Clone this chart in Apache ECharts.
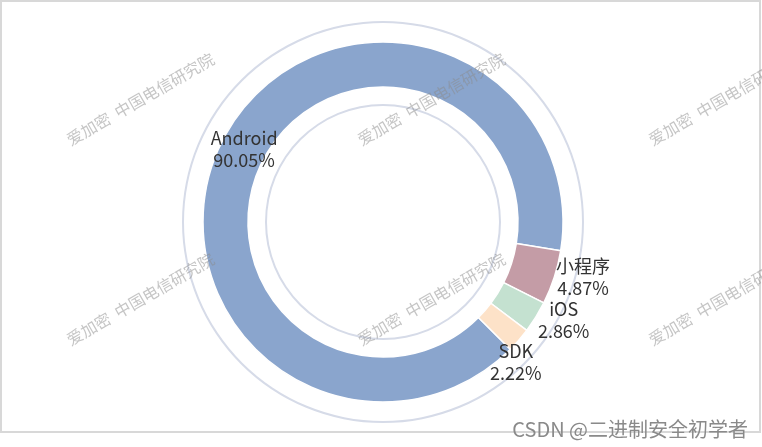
<!DOCTYPE html>
<html>
<head>
<meta charset="utf-8">
<script src="https://cdn.jsdelivr.net/npm/echarts@6/dist/echarts.min.js"></script>
<style>
html,body{margin:0;padding:0;background:#fff;}
#main{width:762px;height:447px;}
</style>
</head>
<body>
<div id="main"></div>
<script>
var categories = ['Android', '小程序', 'iOS', 'SDK'];
var values = [90.05, 4.87, 2.86, 2.22];
var colors = ['#8aa5cd', '#c49ca6', '#c4e1d0', '#fde2c8'];
var watermarkText = '爱加密  中国电信研究院';
var creditText = 'CSDN @二进制安全初学者';

var chart = echarts.init(document.getElementById('main'));

var pieData = categories.map(function (c, i) {
  var item = { name: c, value: values[i], itemStyle: { color: colors[i] } };
  if (i === 0) {
    item.label = { position: 'inside', offset: [4, 0] };
  }
  if (i === 2) {
    item.label = { offset: [-5, 3] };
  }
  if (i === 3) {
    item.label = { offset: [-30, 8] };
  }
  return item;
});

var wmCols = [72, 363, 654];
var wmRows = [148, 348];
var graphics = [{
  type: 'rect', z: 1, silent: true,
  shape: { x: 1, y: 1, width: 759, height: 431 },
  style: { fill: 'none', stroke: '#d8d8d8', lineWidth: 2 }
}];
wmRows.forEach(function (y) {
  wmCols.forEach(function (x) {
    graphics.push({
      type: 'text', z: 100, silent: true,
      x: x, y: y, rotation: Math.PI / 6,
      style: {
        text: watermarkText, x: 0, y: 0,
        fill: 'rgba(140,140,140,0.5)',
        font: '16px "Noto Sans CJK SC", sans-serif',
        textAlign: 'left', textVerticalAlign: 'bottom'
      }
    });
  });
});
graphics.push({
  type: 'text', z: 101, silent: true,
  x: 748, y: 429,
  style: {
    text: creditText,
    fill: '#8a8a8a',
    font: '20px "Noto Sans CJK SC", sans-serif',
    textAlign: 'right', textVerticalAlign: 'middle'
  }
});

chart.setOption({
  backgroundColor: '#fff',
  animation: false,
  graphic: graphics,
  series: [
    {
      type: 'pie', silent: true, z: 1,
      center: [383, 222], radius: [199, 201],
      label: { show: false }, labelLine: { show: false },
      itemStyle: { color: '#d6dbe8' },
      data: [{ value: 1, name: 'outerRing' }]
    },
    {
      type: 'pie', silent: true, z: 1,
      center: [383, 222], radius: [116, 118],
      label: { show: false }, labelLine: { show: false },
      itemStyle: { color: '#d6dbe8' },
      data: [{ value: 1, name: 'innerRing' }]
    },
    {
      type: 'pie', z: 2,
      center: [383, 222],
      radius: [135, 180],
      startAngle: 315,
      clockwise: true,
      avoidLabelOverlap: true,
      itemStyle: { borderColor: '#fff', borderWidth: 1.5 },
      label: {
        show: true,
        position: 'outside',
        distanceToLabelLine: 0,
        formatter: '{t|{b}\n{d}%}',
        rich: {
          t: {
            fontSize: 18, lineHeight: 22, color: '#333',
            fontFamily: '"Noto Sans CJK SC", sans-serif',
            align: 'center', width: 54
          }
        }
      },
      labelLine: { show: false, length: 0, length2: 0 },
      data: pieData
    }
  ]
});
</script>
</body>
</html>
